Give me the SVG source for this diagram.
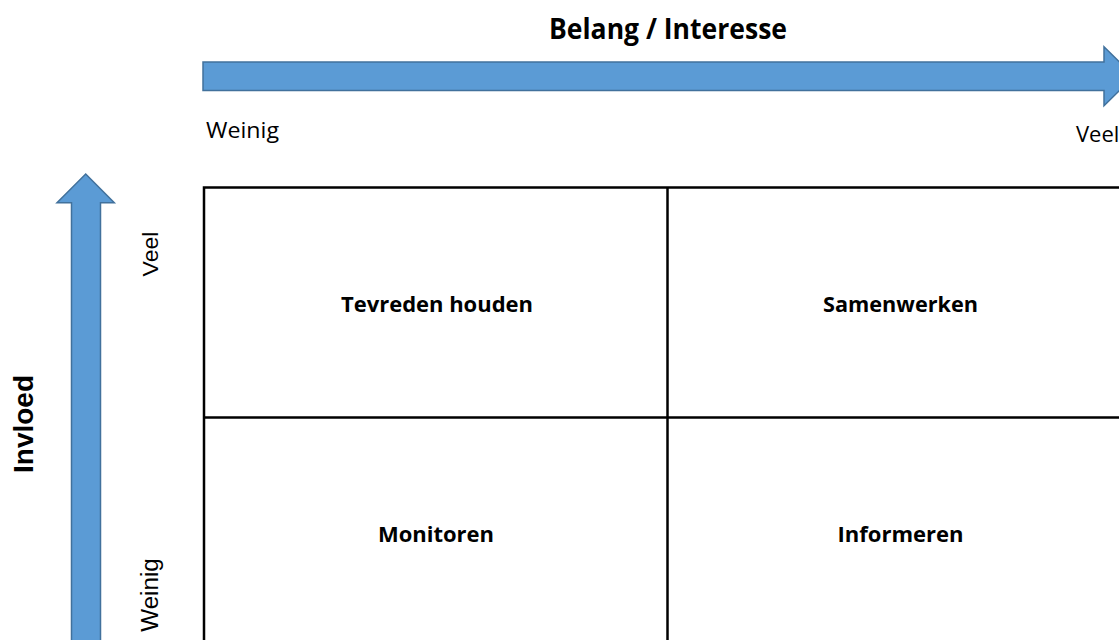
<svg xmlns="http://www.w3.org/2000/svg" width="1119" height="640" viewBox="0 0 1119 640">
  <style>
    .arrow { fill: #5B9BD5; stroke: #41719C; stroke-width: 1.5; stroke-linejoin: miter; }
    .grid { fill: none; stroke: #000000; stroke-width: 2.5; }
    .lbl { font-family: "Open Sans", "Noto Sans", "Liberation Sans", sans-serif; fill: #000000; }
    .b { font-weight: bold; }
    .cell { font-family: "Open Sans", "Noto Sans", "Liberation Sans", sans-serif; font-weight: bold; font-size: 22px; fill: #000000; text-anchor: middle; }
    .vl { font-family: "Liberation Sans", Arial, sans-serif; fill: #000000; text-anchor: middle; }
  </style>
  <rect x="0" y="0" width="1119" height="640" fill="#FFFFFF"/>

  <g id="connectors">
    <path id="arrow-x" class="arrow" d="M203,62 L1104,62 L1104,46.7 L1134,76.2 L1104,105.7 L1104,90.5 L203,90.5 Z"/>
    <path id="arrow-y" class="arrow" d="M71.5,660 L71.5,202.7 L57,202.7 L85.7,174 L114.3,202.7 L100.5,202.7 L100.5,660 Z"/>
  </g>

  <g id="axis-labels">
    <text class="lbl b" x="668" y="39" font-size="28" text-anchor="middle" textLength="238" lengthAdjust="spacingAndGlyphs">Belang / Interesse</text>
    <text class="lbl" x="206" y="138.3" font-size="22" textLength="73" lengthAdjust="spacingAndGlyphs">Weinig</text>
    <text class="lbl" x="1076" y="141.7" font-size="22">Veel</text>
    <text class="vl" transform="translate(158,254) rotate(-90)" font-size="22" textLength="45" lengthAdjust="spacingAndGlyphs">Veel</text>
    <text class="vl" transform="translate(158,595) rotate(-90)" font-size="23" textLength="73.5" lengthAdjust="spacingAndGlyphs">Weinig</text>
    <text class="vl" transform="translate(33.3,424) rotate(-90)" font-size="28" font-weight="bold" textLength="98" lengthAdjust="spacingAndGlyphs">Invloed</text>
  </g>

  <g id="matrix">
    <rect class="grid" x="204" y="187.5" width="929.5" height="480"/>
    <line class="grid" x1="667.5" y1="187.5" x2="667.5" y2="660"/>
    <line class="grid" x1="204" y1="417.5" x2="1133.5" y2="417.5"/>
  </g>

  <g id="node-tevreden-houden">
    <text class="cell" x="437" y="312" textLength="192" lengthAdjust="spacingAndGlyphs">Tevreden houden</text>
  </g>
  <g id="node-samenwerken">
    <text class="cell" x="900.5" y="311.7" textLength="155" lengthAdjust="spacingAndGlyphs">Samenwerken</text>
  </g>
  <g id="node-monitoren">
    <text class="cell" x="436" y="542.3" textLength="116" lengthAdjust="spacingAndGlyphs">Monitoren</text>
  </g>
  <g id="node-informeren">
    <text class="cell" x="900.5" y="542.3" textLength="126" lengthAdjust="spacingAndGlyphs">Informeren</text>
  </g>
</svg>
